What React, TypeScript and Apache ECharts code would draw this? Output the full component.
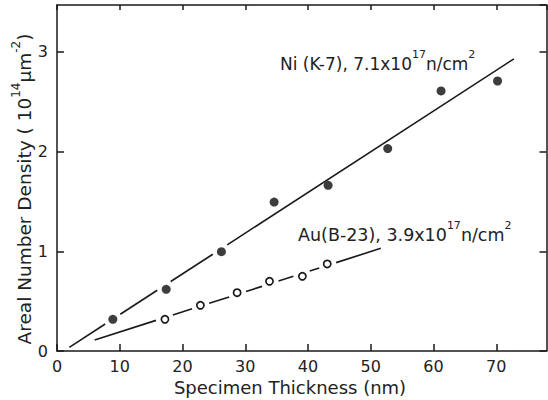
import React, { useEffect, useRef } from "react";
import * as echarts from "echarts";

// Ni (K-7), 7.1x10^17 n/cm^2 : filled circles
const niThickness = [8.9, 17.4, 26.2, 34.6, 43.2, 52.7, 61.2, 70.2];
const niDensity = [0.318, 0.619, 0.996, 1.494, 1.662, 2.03, 2.608, 2.708];
// fitted line ends for Ni
const niFitThickness = [1.96, 72.8];
const niFitDensity = [0.037, 2.93];

// Au (B-23), 3.9x10^17 n/cm^2 : open circles
const auThickness = [17.2, 22.85, 28.7, 33.86, 39.1, 43.06];
const auDensity = [0.318, 0.458, 0.585, 0.699, 0.749, 0.873];
const auFitThickness = [6.0, 51.6];
const auFitDensity = [0.11, 1.03];

const xTicks = [0, 10, 20, 30, 40, 50, 60, 70];
const yTicks = [0, 1, 2, 3];

const FONT = "'DejaVu Sans', 'Noto Sans', sans-serif";
const INK = "#1a1a1a";

const pairs = (xs: number[], ys: number[]) => xs.map((x, i) => [x, ys[i]]);
const fitSets = [
  { x0: niFitThickness[0], y0: niFitDensity[0], x1: niFitThickness[1], y1: niFitDensity[1], xs: niThickness, ys: niDensity },
  { x0: auFitThickness[0], y0: auFitDensity[0], x1: auFitThickness[1], y1: auFitDensity[1], xs: auThickness, ys: auDensity },
];

export default function App() {
  const ref = useRef<HTMLDivElement>(null);
  useEffect(() => {
    if (!ref.current) return;
    const chart = echarts.init(ref.current, undefined, { renderer: "svg" });
    const axisLine = { show: true, onZero: false, lineStyle: { color: INK, width: 1.5 } };
    const tick = { show: true, inside: true, length: 7, lineStyle: { color: INK, width: 1.5 } };
    const xLabel = {
      fontSize: 16, color: "#222", fontFamily: FONT, margin: 7, showMaxLabel: false,
      formatter: (v: number) => (xTicks.includes(v) ? String(v) : ""),
    };
    const yLabel = {
      fontSize: 16, color: "#222", fontFamily: FONT, margin: 9, showMaxLabel: false,
      formatter: (v: number) => (yTicks.includes(v) ? String(v) : ""),
    };
    const richFor = (size: number, sup: number) => ({
      a: { fontSize: size, fontFamily: FONT, fill: "#222", lineHeight: size + 6, verticalAlign: "bottom" },
      s: { fontSize: sup, fontFamily: FONT, fill: "#222", verticalAlign: "top", lineHeight: size + 6 },
    });
    const GAP_R = 9;
    const ON_LINE = 4.5;
    chart.setOption({
      animation: false,
      grid: { left: 57, top: 5, right: 1.5, bottom: 49, containLabel: false },
      xAxis: [
        {
          type: "value", min: 0, max: 78, interval: 10, position: "bottom",
          axisLine, axisTick: tick, axisLabel: xLabel, splitLine: { show: false },
        },
        {
          type: "value", min: 0, max: 78, interval: 10, position: "top",
          axisLine, axisTick: { ...tick, length: 5 }, axisLabel: { show: false }, splitLine: { show: false },
        },
      ],
      yAxis: [
        {
          type: "value", min: 0, max: 3.47, interval: 1, position: "left",
          axisLine, axisTick: tick, axisLabel: yLabel, splitLine: { show: false },
        },
        {
          type: "value", min: 0, max: 3.47, interval: 1, position: "right",
          axisLine, axisTick: tick, axisLabel: { show: false }, splitLine: { show: false },
        },
      ],
      series: [
        {
          type: "custom",
          data: fitSets.map((f) => [f.x0, f.y0, f.x1, f.y1]),
          encode: { x: [0, 2], y: [1, 3] },
          silent: true,
          renderItem: (params: any, api: any) => {
            const f = fitSets[params.dataIndex];
            const p0 = api.coord([f.x0, f.y0]);
            const p1 = api.coord([f.x1, f.y1]);
            const dx = p1[0] - p0[0];
            const dy = p1[1] - p0[1];
            const L = Math.hypot(dx, dy);
            const ux = dx / L;
            const uy = dy / L;
            const cuts: number[][] = [];
            f.xs.forEach((x, i) => {
              const c = api.coord([x, f.ys[i]]);
              const vx = c[0] - p0[0];
              const vy = c[1] - p0[1];
              const t = vx * ux + vy * uy;
              const h = Math.abs(vx * uy - vy * ux);
              if (h < ON_LINE) {
                const hc = Math.sqrt(GAP_R * GAP_R - h * h);
                cuts.push([t - hc, t + hc]);
              }
            });
            cuts.sort((a, b) => a[0] - b[0]);
            const segs: number[][] = [];
            let s = 0;
            cuts.forEach(([a, b]) => {
              if (a > s) segs.push([s, Math.min(a, L)]);
              s = Math.max(s, b);
            });
            if (s < L) segs.push([s, L]);
            return {
              type: "group",
              children: segs.map(([a, b]) => ({
                type: "line",
                shape: {
                  x1: p0[0] + ux * a, y1: p0[1] + uy * a,
                  x2: p0[0] + ux * b, y2: p0[1] + uy * b,
                },
                style: { stroke: INK, lineWidth: 1.6 },
              })),
            };
          },
        },
        {
          type: "scatter", data: pairs(niThickness, niDensity), symbolSize: 9, z: 6, silent: true,
          itemStyle: { color: "#3d3d3d", opacity: 1 },
        },
        {
          type: "scatter", data: pairs(auThickness, auDensity), symbolSize: 7.2, z: 6, silent: true,
          itemStyle: { color: "#ffffff", borderColor: INK, borderWidth: 1.7, opacity: 1 },
        },
      ],
      graphic: [
        {
          type: "text", x: 280, y: 49,
          style: {
            text: "{a|Ni (K-7), 7.1x10}{s|17}{a|n/cm}{s|2}",
            rich: richFor(17, 11), fill: "#222", font: `17px ${FONT}`,
          },
        },
        {
          type: "text", x: 298, y: 220,
          style: {
            text: "{a|Au(B-23), 3.9x10}{s|17}{a|n/cm}{s|2}",
            rich: richFor(17.5, 11), fill: "#222", font: `17.5px ${FONT}`,
          },
        },
        {
          type: "text", x: 290, y: 387,
          style: {
            text: "Specimen Thickness (nm)", fill: "#222", font: `18px ${FONT}`,
            align: "center", verticalAlign: "middle",
          },
        },
        {
          type: "text", x: 22, y: 189, rotation: Math.PI / 2,
          style: {
            text: "{a|Areal Number Density ( 10}{s|14}{a|μm}{s|-2}{a|)}",
            rich: richFor(18.5, 12), fill: "#222", font: `18.5px ${FONT}`,
            align: "center", verticalAlign: "middle",
          },
        },
      ],
    });
    return () => chart.dispose();
  }, []);
  return (
    <div
      ref={ref}
      style={{ position: "fixed", left: 0, top: 0, width: 548, height: 400, background: "#fff" }}
    />
  );
}
